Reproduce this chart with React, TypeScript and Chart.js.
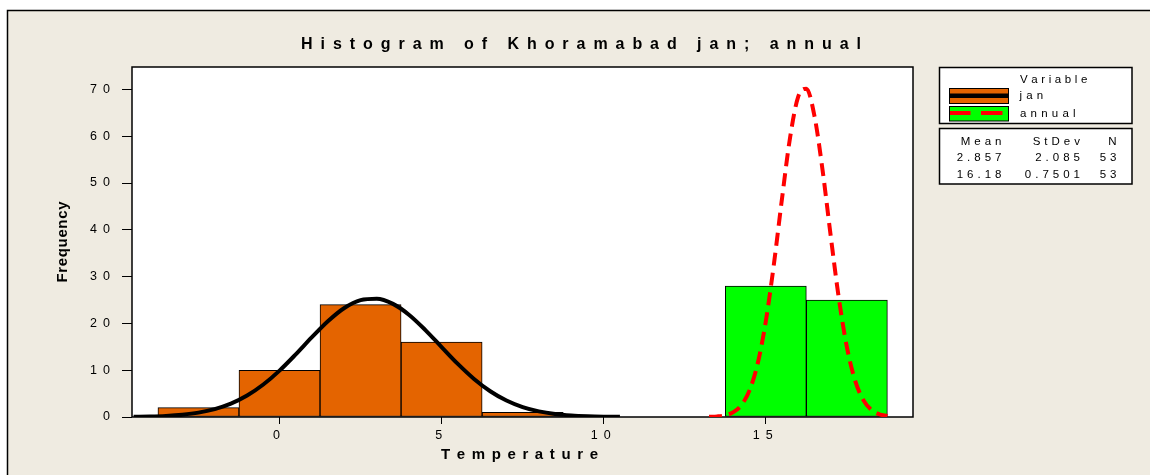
import React, { useEffect, useRef } from "react";
import { Chart, registerables } from "chart.js";

Chart.register(...registerables);

// ---------- data ----------
const TITLE = "Histogram of Khoramabad jan; annual";
const X_LABEL = "Temperature";
const Y_LABEL = "Frequency";
const SERIES_NAMES = ["jan", "annual"];

const JAN_BIN_CENTERS = [-2.5, 0, 2.5, 5, 7.5];
const JAN_COUNTS = [2, 10, 24, 16, 1];
const ANNUAL_BIN_CENTERS = [15, 17.5];
const ANNUAL_COUNTS = [28, 25];

const JAN_CURVE_X = [-4.5, -4, -3.5, -3, -2.5, -2, -1.5, -1, -0.5, 0, 0.5, 1, 1.5, 2, 2.5, 3, 3.5, 4, 4.5, 5, 5.5, 6, 6.5, 7, 7.5, 8, 8.5, 9, 9.5, 10, 10.5];
const JAN_CURVE_Y = [0.05, 0.11, 0.24, 0.49, 0.93, 1.68, 2.85, 4.58, 6.94, 9.91, 13.38, 17.05, 20.51, 23.3, 24.98, 25.29, 24.17, 21.81, 18.58, 14.95, 11.35, 8.14, 5.51, 3.52, 2.12, 1.21, 0.65, 0.33, 0.16, 0.07, 0.03];

const ANNUAL_CURVE_X = [13.25, 13.5, 13.75, 14, 14.25, 14.5, 14.75, 15, 15.25, 15.5, 15.75, 16, 16.25, 16.5, 16.75, 17, 17.25, 17.5, 17.75, 18, 18.25, 18.5, 18.75];
const ANNUAL_CURVE_Y = [0.03, 0.12, 0.37, 1.03, 2.57, 5.74, 11.45, 20.45, 32.68, 46.72, 59.79, 68.47, 70.17, 64.34, 52.8, 38.77, 25.48, 14.98, 7.89, 3.71, 1.56, 0.59, 0.2];

const X_TICKS = [0, 5, 10, 15];
const Y_TICKS = [0, 10, 20, 30, 40, 50, 60, 70];

const STATS_HEADER = ["Mean", "StDev", "N"];
const STATS_ROWS = [
  ["2.857", "2.085", "53"],
  ["16.18", "0.7501", "53"],
];

// ---------- style ----------
const FONT = "'Liberation Sans', Arial, Helvetica, sans-serif";
const BG = "#EFEBE1";
const ORANGE = "#E46400";
const GREEN = "#00FF00";
const RED = "#FF0000";
const TEXT = "#000000";

function drawSpaced(
  ctx: CanvasRenderingContext2D,
  text: string,
  x: number,
  y: number,
  font: string,
  spacing: number,
  align: "left" | "center" | "right",
  color: string
) {
  ctx.save();
  ctx.font = font;
  ctx.fillStyle = color;
  ctx.textBaseline = "middle";
  ctx.textAlign = "left";
  (ctx as any).letterSpacing = "0px";
  const chars = Array.from(text);
  const widths = chars.map((c) => ctx.measureText(c).width);
  const total = widths.reduce((a, b) => a + b, 0) + spacing * (chars.length - 1);
  let cx = align === "left" ? x : align === "center" ? x - total / 2 : x - total;
  chars.forEach((c, i) => {
    ctx.fillText(c, cx, y);
    cx += widths[i] + spacing;
  });
  ctx.restore();
}

function fitSpaced(
  ctx: CanvasRenderingContext2D,
  text: string,
  x0: number,
  x1: number,
  y: number,
  font: string,
  color: string
) {
  ctx.save();
  ctx.font = font;
  (ctx as any).letterSpacing = "0px";
  const chars = Array.from(text);
  const natural = chars.reduce((a, c) => a + ctx.measureText(c).width, 0);
  ctx.restore();
  const spacing = chars.length > 1 ? (x1 - x0 - natural) / (chars.length - 1) : 0;
  drawSpaced(ctx, text, x0, y, font, spacing, "left", color);
}

const decorPlugin = {
  id: "decor",
  beforeDraw(chart: any) {
    const ctx: CanvasRenderingContext2D = chart.ctx;
    const { width, height, chartArea } = chart;
    ctx.save();
    ctx.fillStyle = "#FFFFFF";
    ctx.fillRect(0, 0, width, height);
    ctx.fillStyle = BG;
    ctx.fillRect(7, 10, width - 7, height - 10);
    ctx.strokeStyle = "#000";
    ctx.lineWidth = 1.5;
    ctx.beginPath();
    ctx.moveTo(7.5, height);
    ctx.lineTo(7.5, 10.5);
    ctx.lineTo(width, 10.5);
    ctx.stroke();
    ctx.fillStyle = "#FFFFFF";
    ctx.fillRect(chartArea.left, chartArea.top, chartArea.right - chartArea.left, chartArea.bottom - chartArea.top);
    ctx.restore();
    (ctx as any).letterSpacing = "6px";
  },
  beforeDatasetsDraw(chart: any) {
    const ctx: CanvasRenderingContext2D = chart.ctx;
    (ctx as any).letterSpacing = "0px";
    const { chartArea } = chart;
    ctx.save();
    ctx.strokeStyle = "#000";
    ctx.lineWidth = 1.5;
    ctx.strokeRect(chartArea.left, chartArea.top, chartArea.right - chartArea.left, chartArea.bottom - chartArea.top);
    ctx.restore();
  },
  afterDraw(chart: any) {
    const ctx: CanvasRenderingContext2D = chart.ctx;
    (ctx as any).letterSpacing = "0px";
    const { chartArea } = chart;

    // title
    fitSpaced(ctx, TITLE, 301, 861, 44.5, `bold 16px ${FONT}`, TEXT);
    // x axis title
    fitSpaced(ctx, X_LABEL, 441, 598, 455, `bold 15px ${FONT}`, TEXT);
    // y axis title
    ctx.save();
    ctx.translate(63, (chartArea.top + chartArea.bottom) / 2);
    ctx.rotate(-Math.PI / 2);
    fitSpaced(ctx, Y_LABEL, -40.5, 40.5, 0, `bold 15px ${FONT}`, TEXT);
    ctx.restore();

    // legend boxes
    ctx.save();
    ctx.fillStyle = "#FFFFFF";
    ctx.strokeStyle = "#000";
    ctx.lineWidth = 1.5;
    ctx.fillRect(939.5, 67.5, 192.5, 56);
    ctx.strokeRect(939.5, 67.5, 192.5, 56);
    ctx.fillRect(939.5, 128.5, 192.5, 55.5);
    ctx.strokeRect(939.5, 128.5, 192.5, 55.5);

    // jan swatch
    ctx.fillStyle = ORANGE;
    ctx.fillRect(949.5, 88.5, 59, 15);
    ctx.lineWidth = 1;
    ctx.strokeStyle = "#000";
    ctx.strokeRect(949.5, 88.5, 59, 15);
    ctx.fillStyle = "#000";
    ctx.fillRect(950, 93.5, 58, 4.5);

    // annual swatch
    ctx.fillStyle = GREEN;
    ctx.fillRect(949.5, 106.5, 59, 14.5);
    ctx.strokeRect(949.5, 106.5, 59, 14.5);
    ctx.strokeStyle = RED;
    ctx.lineWidth = 4;
    ctx.beginPath();
    ctx.moveTo(950, 113);
    ctx.lineTo(970.5, 113);
    ctx.moveTo(981, 113);
    ctx.lineTo(1002.5, 113);
    ctx.stroke();
    ctx.restore();

    const lf = `11.5px ${FONT}`;
    drawSpaced(ctx, "Variable", 1020, 79.5, lf, 3.6, "left", TEXT);
    drawSpaced(ctx, SERIES_NAMES[0], 1019.5, 95.5, lf, 4.2, "left", TEXT);
    drawSpaced(ctx, SERIES_NAMES[1], 1020, 113.8, lf, 4.2, "left", TEXT);

    // stats
    const colRight = [1001.5, 1080, 1116.5];
    const sp = 4;
    STATS_HEADER.forEach((h, i) => drawSpaced(ctx, h, colRight[i], 141.5, lf, sp, "right", TEXT));
    STATS_ROWS.forEach((row, r) =>
      row.forEach((v, i) => drawSpaced(ctx, v, colRight[i], 158 + r * 16.6, lf, sp, "right", TEXT))
    );
  },
};

export default function App() {
  const ref = useRef<HTMLCanvasElement>(null);
  useEffect(() => {
    const canvas = ref.current;
    if (!canvas) return;
    const chart = new Chart(canvas, {
      type: "bar",
      data: {
        datasets: [
          {
            type: "line",
            label: SERIES_NAMES[0] + " fit",
            data: JAN_CURVE_X.map((x, i) => ({ x, y: JAN_CURVE_Y[i] })),
            borderColor: "#000",
            borderWidth: 4,
            pointRadius: 0,
            cubicInterpolationMode: "monotone",
            fill: false,
            order: 1,
          } as any,
          {
            type: "line",
            label: SERIES_NAMES[1] + " fit",
            data: ANNUAL_CURVE_X.map((x, i) => ({ x, y: ANNUAL_CURVE_Y[i] })),
            borderColor: RED,
            borderWidth: 4,
            borderDash: [13, 7],
            pointRadius: 0,
            cubicInterpolationMode: "monotone",
            fill: false,
            order: 1,
          } as any,
          {
            type: "bar",
            label: SERIES_NAMES[0],
            data: JAN_BIN_CENTERS.map((x, i) => ({ x, y: JAN_COUNTS[i] })),
            backgroundColor: ORANGE,
            borderColor: "#000",
            borderWidth: 1,
            borderSkipped: false,
            barPercentage: 1,
            categoryPercentage: 1,
            grouped: false,
            order: 2,
          } as any,
          {
            type: "bar",
            label: SERIES_NAMES[1],
            data: ANNUAL_BIN_CENTERS.map((x, i) => ({ x, y: ANNUAL_COUNTS[i] })),
            backgroundColor: GREEN,
            borderColor: "#000",
            borderWidth: 1,
            borderSkipped: false,
            barPercentage: 1,
            categoryPercentage: 1,
            grouped: false,
            order: 2,
          } as any,
        ],
      },
      options: {
        animation: false,
        responsive: false,
        devicePixelRatio: 1,
        events: [],
        layout: { padding: { left: 0, top: 67, right: 237, bottom: 0 } },
        plugins: {
          legend: { display: false },
          tooltip: { enabled: false },
          title: { display: false },
        },
        scales: {
          x: {
            type: "linear",
            min: -4.55,
            max: 19.54,
            offset: false,
            grid: {
              offset: false,
              display: true,
              drawOnChartArea: false,
              drawTicks: true,
              tickLength: 7,
              color: "#000",
              lineWidth: 1,
            },
            border: { display: false },
            ticks: {
              font: { family: FONT, size: 12.5 },
              color: TEXT,
              padding: 4.5,
              maxRotation: 0,
              autoSkip: false,
            },
            afterBuildTicks: (s: any) => {
              s.ticks = X_TICKS.map((v) => ({ value: v }));
            },
            afterFit: (s: any) => {
              s.height = 58;
            },
          },
          y: {
            type: "linear",
            min: 0,
            max: 74.8,
            grid: {
              display: true,
              drawOnChartArea: false,
              drawTicks: true,
              tickLength: 10,
              color: "#000",
              lineWidth: 1,
            },
            border: { display: false },
            ticks: {
              font: { family: FONT, size: 12.5 },
              color: TEXT,
              padding: 6,
              autoSkip: false,
            },
            afterBuildTicks: (s: any) => {
              s.ticks = Y_TICKS.map((v) => ({ value: v }));
            },
            afterFit: (s: any) => {
              s.width = 132;
            },
          },
        },
      } as any,
      plugins: [decorPlugin],
    });
    return () => chart.destroy();
  }, []);
  return (
    <div style={{ position: "fixed", left: 0, top: 0, width: 1150, height: 475 }}>
      <canvas ref={ref} width={1150} height={475} style={{ display: "block", width: 1150, height: 475 }} />
    </div>
  );
}
